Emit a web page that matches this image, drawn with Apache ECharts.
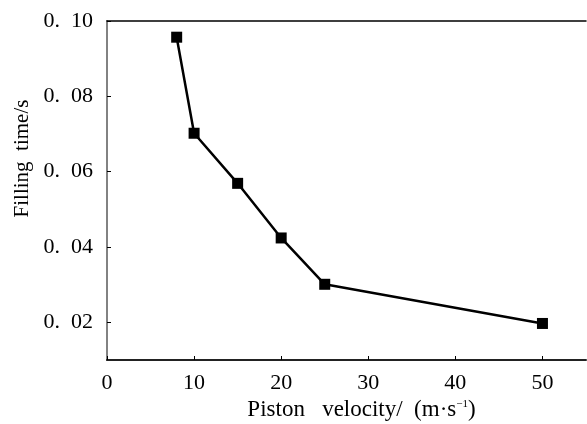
<!DOCTYPE html>
<html>
<head>
<meta charset="utf-8">
<script src="https://cdn.jsdelivr.net/npm/echarts@6/dist/echarts.min.js"></script>
<style>
  html, body { margin: 0; padding: 0; background: #fff; }
  #chart { width: 587px; height: 424px; }
</style>
</head>
<body>
<div id="chart"></div>
<script>
// Piston velocity (m/s) vs filling time (s)
const velocity = [8, 10, 15, 20, 25, 50];
const fillingTime = [0.0957, 0.0702, 0.0569, 0.0424, 0.0301, 0.0197];
const xTicks = [0, 10, 20, 30, 40, 50];
const yTicks = [0.02, 0.04, 0.06, 0.08, 0.10];

const font = "'Liberation Serif', 'DejaVu Serif', serif";
const chart = echarts.init(document.getElementById("chart"));

const option = {
  animation: false,
  grid: { left: 107, right: 1, top: 21, bottom: 64, outerBoundsMode: "none" },
  xAxis: [
    {
      type: "value",
      min: 0,
      max: 55,
      name: "{t|Piston   velocity/  (m·s}{s|−1}{t|)}",
      nameLocation: "middle",
      nameGap: 35,
      nameTextStyle: {
        padding: [0, 0, 0, 30],
        rich: {
          t: { fontFamily: font, fontSize: 23, color: "#000" },
          s: { fontFamily: font, fontSize: 11, color: "#000", verticalAlign: "top", padding: [0, 0, 12, 0] }
        }
      },
      axisLine: { lineStyle: { color: "#222", width: 2 } },
      axisTick: { inside: true, length: 4, customValues: xTicks, lineStyle: { color: "#000" } },
      axisLabel: { customValues: xTicks, margin: 12, fontFamily: font, fontSize: 22, color: "#000" },
      splitLine: { show: false }
    },
    {
      type: "value",
      position: "top",
      min: 0,
      max: 55,
      axisLine: { show: true, lineStyle: { color: "#000", width: 1.5 } },
      axisTick: { show: false },
      axisLabel: { show: false },
      splitLine: { show: false }
    }
  ],
  yAxis: [
    {
      type: "value",
      min: 0.01,
      max: 0.10,
      name: "Filling  time/s",
      nameLocation: "middle",
      nameGap: 74,
      nameTextStyle: { fontFamily: font, fontSize: 21, color: "#000", padding: [0, 0, 0, 64] },
      axisLine: { show: true, lineStyle: { color: "#000", width: 1.5 } },
      axisTick: { inside: true, length: 4, customValues: yTicks, lineStyle: { color: "#000" } },
      axisLabel: {
        customValues: yTicks,
        margin: 14,
        fontFamily: font,
        fontSize: 22,
        color: "#000",
        formatter: v => v.toFixed(2).replace(".", ".  ")
      },
      splitLine: { show: false }
    },
    {
      type: "value",
      position: "right",
      min: 0.01,
      max: 0.10,
      axisLine: { show: true, lineStyle: { color: "#999", width: 1.5 } },
      axisTick: { show: false },
      axisLabel: { show: false },
      splitLine: { show: false }
    }
  ],
  series: [
    {
      type: "line",
      data: velocity.map((v, i) => [v, fillingTime[i]]),
      symbol: "rect",
      symbolSize: 11,
      lineStyle: { color: "#000", width: 2.5 },
      itemStyle: { color: "#000" }
    }
  ]
};

chart.setOption(option);
</script>
</body>
</html>
